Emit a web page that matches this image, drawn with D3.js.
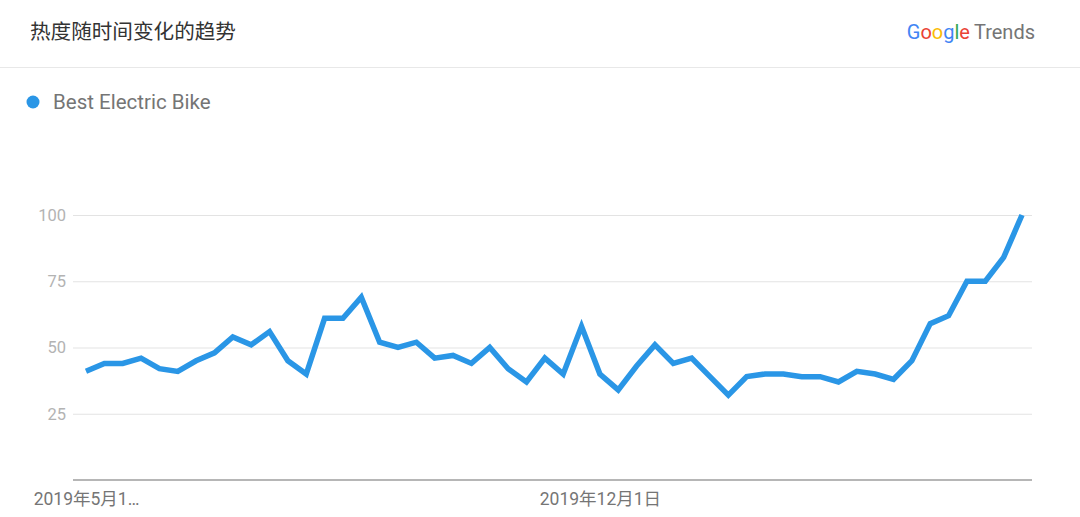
<!DOCTYPE html>
<html>
<head>
<meta charset="utf-8">
<script src="https://cdn.jsdelivr.net/npm/d3@7"></script>
<style>
    body { margin: 0; background: #fff; }
    svg { display: block; font-family: Roboto, "Noto Sans CJK SC", sans-serif; }
</style>
</head>
<body>
<div id="chart"></div>
<script>
// weekly interest, Google Trends style
var seriesName = "Best Electric Bike";
var startWeek = "2019-05-19";
var endWeek = "2020-05-10";
var interest = [41, 44, 44, 46, 42, 41, 45, 48, 54, 51, 56, 45, 40, 61, 61, 69, 52, 50, 52, 46,
    47, 44, 50, 42, 37, 46, 40, 58, 40, 34, 43, 51, 44, 46, 39, 32, 39, 40, 40, 39,
    39, 37, 41, 40, 38, 45, 59, 62, 75, 75, 84, 100];
var yTicks = [25, 50, 75, 100];
var xTickDates = ["2019-05-19", "2019-12-01"];
var xTickLabels = ["2019年5月1…", "2019年12月1日"];
var logoLetters = ["G", "o", "o", "g", "l", "e"];
var logoColors = ["#4285F4", "#EA4335", "#FBBC05", "#4285F4", "#34A853", "#EA4335"];

var W = 1080, H = 517;
var lineColor = "#2a96e6";

var parseDate = d3.timeParse("%Y-%m-%d");
var weeks = d3.timeWeek.range(parseDate(startWeek), d3.timeDay.offset(parseDate(endWeek), 1));
var data = weeks.map(function (d, i) {
    return { date: d, value: interest[i] };
});

var svg = d3.select("#chart")
    .append("svg")
    .attr("width", W)
    .attr("height", H);

// header
svg.append("text")
    .attr("x", 30)
    .attr("y", 39)
    .style("font-size", "20.6px")
    .attr("fill", "#333")
    .text("热度随时间变化的趋势");

var logo = svg.append("text")
    .attr("x", 1035)
    .attr("y", 39)
    .attr("text-anchor", "end")
    .style("font-size", "20px");
logoLetters.forEach(function (l, i) {
    logo.append("tspan").attr("fill", logoColors[i]).text(l);
});
logo.append("tspan").attr("fill", "#757575").attr("dx", 4).text("Trends");

svg.append("line")
    .attr("x1", 0).attr("x2", W)
    .attr("y1", 67.5).attr("y2", 67.5)
    .attr("stroke", "#e8e8e8");

// legend
svg.append("circle")
    .attr("cx", 33)
    .attr("cy", 102)
    .attr("r", 6.5)
    .attr("fill", lineColor);
svg.append("text")
    .attr("x", 53)
    .attr("y", 109)
    .style("font-size", "20.5px")
    .attr("fill", "#757575")
    .text(seriesName);

// scales
var left = 73, right = 1032;
var x = d3.scaleTime()
    .domain(d3.extent(data, function (d) { return d.date; }))
    .range([86, 1022]);
var y = d3.scaleLinear().domain([0, 100]).range([480, 215]);

// Y axis with grid
var yAxis = svg.append("g")
    .attr("transform", "translate(" + left + ",0)")
    .call(d3.axisLeft(y).tickValues(yTicks).tickSize(-(right - left)).tickPadding(7));
yAxis.select(".domain").remove();
yAxis.selectAll(".tick line").attr("stroke", "#e3e3e3");
yAxis.selectAll(".tick text")
    .attr("fill", "#b3b3b3")
    .style("font-size", "16.5px")
    .style("font-family", "Roboto, sans-serif");

// baseline
svg.append("line")
    .attr("x1", left).attr("x2", right)
    .attr("y1", y(0)).attr("y2", y(0))
    .attr("stroke", "#9e9e9e")
    .attr("stroke-width", 1.5);

// X axis labels
var xAxis = svg.append("g")
    .attr("transform", "translate(0," + y(0) + ")")
    .call(d3.axisBottom(x)
        .tickValues(xTickDates.map(parseDate))
        .tickSize(0)
        .tickPadding(13)
        .tickFormat(function (d, i) { return xTickLabels[i]; }));
xAxis.select(".domain").remove();
xAxis.selectAll(".tick text")
    .attr("fill", "#757575")
    .style("font-size", "17.5px")
    .style("font-family", "Roboto, \"Noto Sans CJK SC\", sans-serif");

// line
var valueline = d3.line()
    .x(function (d) { return x(d.date); })
    .y(function (d) { return y(d.value); });

svg.append("path")
    .datum(data)
    .attr("fill", "none")
    .attr("stroke", lineColor)
    .attr("stroke-width", 5.5)
    .attr("d", valueline);
</script>
</body>
</html>
